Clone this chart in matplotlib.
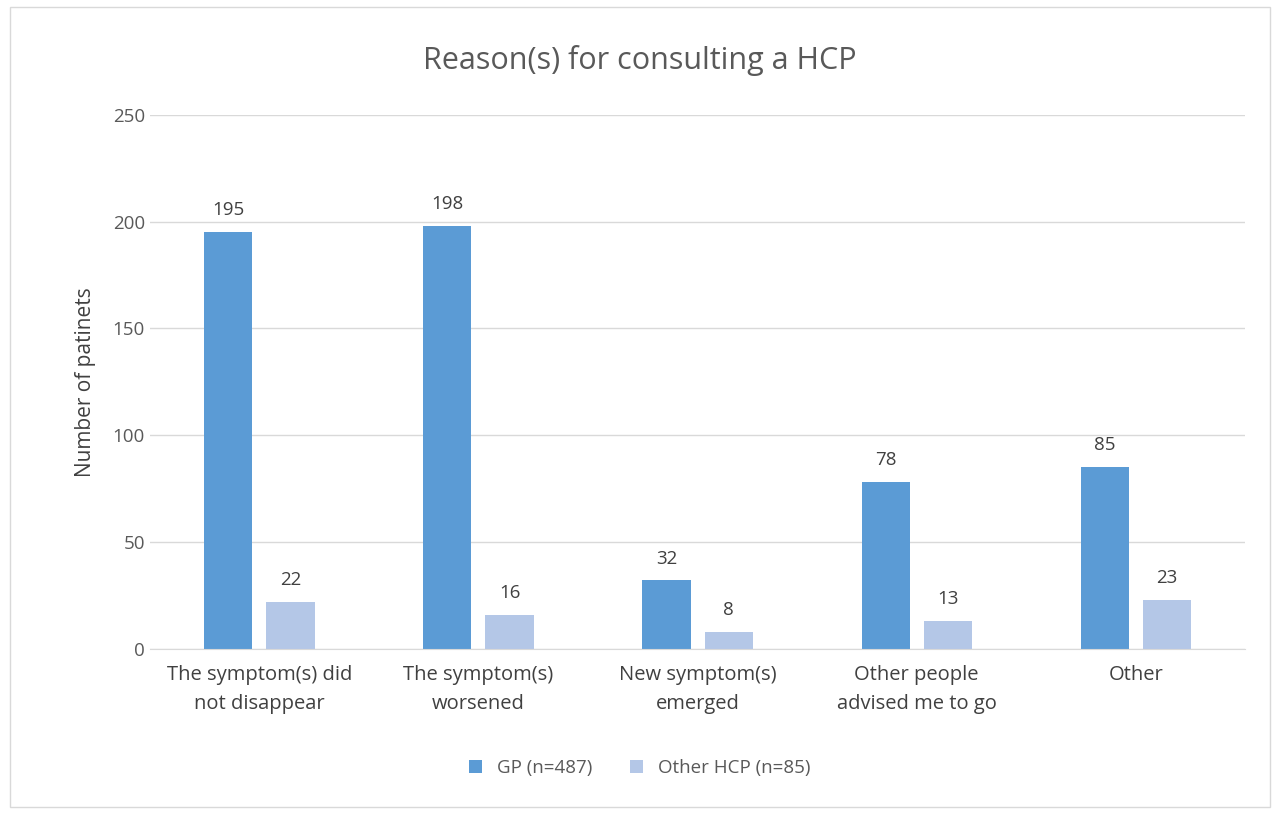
import numpy as np
import matplotlib
matplotlib.use("Agg")
import matplotlib.pyplot as plt
from matplotlib.patches import Rectangle

categories = ["The symptom(s) did\nnot disappear", "The symptom(s)\nworsened",
              "New symptom(s)\nemerged", "Other people\nadvised me to go", "Other"]
gp = [195, 198, 32, 78, 85]
other_hcp = [22, 16, 8, 13, 23]
GP_C, OT_C, TXT = "#5B9BD5", "#B4C7E7", "#595959"

plt.rcParams.update({"font.family": ["Open Sans", "DejaVu Sans"], "font.size": 13})
fig = plt.figure(figsize=(12.8, 8.14), dpi=100)
fig.patches.append(Rectangle((0.008, 0.008), 0.984, 0.984, transform=fig.transFigure,
                             fill=False, ec="#d9d9d9", lw=1))
ax = fig.add_axes([0.117, 0.203, 0.856, 0.656])
x = np.arange(len(categories))
w = 0.22
b1 = ax.bar(x - 0.142, gp, w, color=GP_C, label="GP (n=487)")
b2 = ax.bar(x + 0.142, other_hcp, w, color=OT_C, label="Other HCP (n=85)")
for bars in (b1, b2):
    for r in bars:
        ax.text(r.get_x() + r.get_width() / 2, r.get_height() + 6, f"{r.get_height():.0f}",
                ha="center", va="bottom", color="#404040", fontsize=13.5)
ax.set_xlim(-0.5, len(categories) - 0.5)
ax.set_ylim(0, 250)
ax.set_yticks(range(0, 251, 50))
ax.yaxis.grid(True, color="#d9d9d9", lw=1)
ax.set_axisbelow(True)
for s in ["top", "right", "left"]:
    ax.spines[s].set_visible(False)
ax.spines["bottom"].set_color("#d9d9d9")
ax.tick_params(length=0, colors=TXT, labelsize=13.5)
ax.tick_params(axis="x", pad=12)
ax.set_xticks(x)
ax.set_xticklabels(categories, color="#404040", fontsize=14.5, linespacing=1.55)
ax.set_ylabel("Number of patinets", color="#404040", fontsize=15, labelpad=12)
fig.suptitle("Reason(s) for consulting a HCP", y=0.945, fontsize=22, color=TXT)
fig.legend(loc="lower center", bbox_to_anchor=(0.5, 0.025), ncol=2, frameon=False,
           fontsize=13.5, handlelength=0.7, handleheight=0.7, labelcolor=TXT)
fig.savefig("out.png", dpi=100)
